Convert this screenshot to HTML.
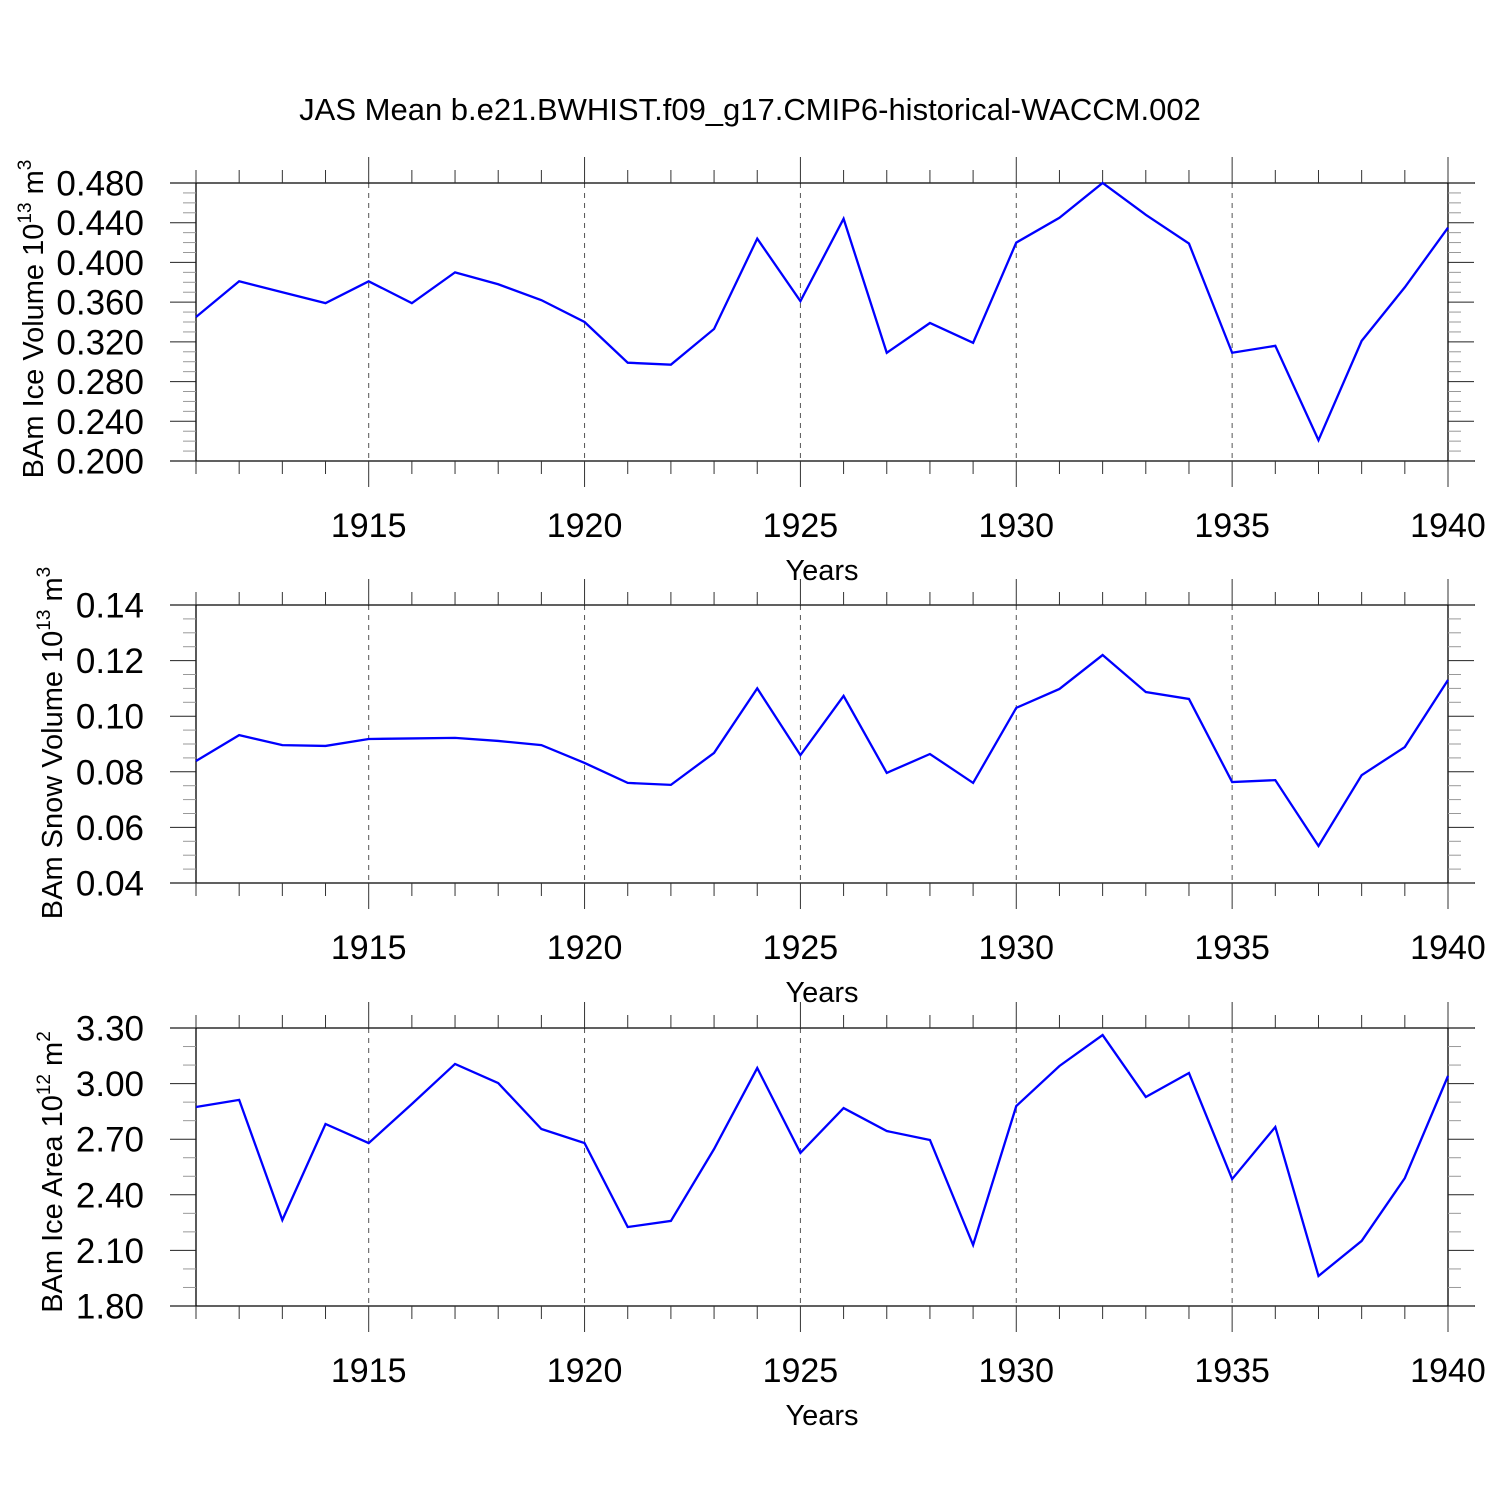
<!DOCTYPE html>
<html><head><meta charset="utf-8"><style>
html,body{margin:0;padding:0;background:#fff;}
svg{display:block;font-family:"Liberation Sans",sans-serif;}
</style></head><body>
<svg id="chart" width="1500" height="1500" viewBox="0 0 1500 1500" xmlns="http://www.w3.org/2000/svg">
<text x="750" y="120" font-size="31" text-anchor="middle">JAS Mean b.e21.BWHIST.f09_g17.CMIP6-historical-WACCM.002</text>
</svg>
<script>
const years = [1911,1912,1913,1914,1915,1916,1917,1918,1919,1920,1921,1922,1923,1924,1925,1926,1927,1928,1929,1930,1931,1932,1933,1934,1935,1936,1937,1938,1939,1940];
const iceVolume = [0.345,0.381,0.370,0.359,0.381,0.359,0.390,0.378,0.362,0.340,0.299,0.297,0.333,0.424,0.361,0.444,0.309,0.339,0.319,0.420,0.445,0.480,0.448,0.419,0.309,0.316,0.221,0.321,0.375,0.435];
const snowVolume = [0.0839,0.0932,0.0896,0.0893,0.0918,0.0920,0.0922,0.0911,0.0896,0.0832,0.0760,0.0753,0.0868,0.1100,0.0860,0.1073,0.0796,0.0864,0.0760,0.1030,0.1098,0.1220,0.1087,0.1062,0.0763,0.0770,0.0533,0.0788,0.0889,0.1130];
const iceArea = [2.874,2.912,2.264,2.782,2.679,2.890,3.106,3.003,2.755,2.679,2.226,2.259,2.647,3.084,2.626,2.868,2.744,2.696,2.129,2.879,3.095,3.262,2.928,3.057,2.485,2.766,1.962,2.151,2.490,3.041];
const xTickLabels = [1915,1920,1925,1930,1935,1940];
const iceVolTicks = ["0.200","0.240","0.280","0.320","0.360","0.400","0.440","0.480"];
const snowVolTicks = ["0.04","0.06","0.08","0.10","0.12","0.14"];
const iceAreaTicks = ["1.80","2.10","2.40","2.70","3.00","3.30"];

const NS="http://www.w3.org/2000/svg";
const svg=document.getElementById('chart');
const X0=196,X1=1448,Y0=1911,Y1=1940;
function xs(yr){return X0+(yr-Y0)/(Y1-Y0)*(X1-X0);}
function mk(tag,attrs,parent){const e=document.createElementNS(NS,tag);for(const k in attrs)e.setAttribute(k,attrs[k]);(parent||svg).appendChild(e);return e;}

const panels=[
 {key:'ice-volume',top:183,min:0.2,max:0.48,ticks:iceVolTicks,minor:0.01,data:iceVolume,title:'BAm Ice Volume 10',sup:'13',unit:' m',usup:'3',tx:43,ty:319},
 {key:'snow-volume',top:605,min:0.04,max:0.14,ticks:snowVolTicks,minor:0.005,data:snowVolume,title:'BAm Snow Volume 10',sup:'13',unit:' m',usup:'3',tx:62,ty:743},
 {key:'ice-area',top:1028,min:1.8,max:3.3,ticks:iceAreaTicks,minor:0.1,data:iceArea,title:'BAm Ice Area 10',sup:'12',unit:' m',usup:'2',tx:62,ty:1172}
];
panels.forEach(p=>{
  const H=278,bot=p.top+H;
  const g=mk('g',{});
  
  
  const ys=v=>bot-(v-p.min)/(p.max-p.min)*H;
  xTickLabels.forEach(yr=>{ if(yr<Y1){const l=mk('line',{x1:xs(yr),x2:xs(yr),y1:p.top,y2:bot,stroke:'#555','stroke-width':1,'stroke-dasharray':'5,5'},g);
    
    }});
  mk('line',{x1:170,x2:1475,y1:p.top,y2:p.top,stroke:'#000','stroke-width':1.3},g);
  mk('line',{x1:170,x2:1475,y1:bot,y2:bot,stroke:'#000','stroke-width':1.3},g);
  mk('line',{x1:X0,x2:X0,y1:p.top,y2:bot,stroke:'#000','stroke-width':1.3},g);
  mk('line',{x1:X1,x2:X1,y1:p.top,y2:bot,stroke:'#000','stroke-width':1.3},g);
  years.forEach(yr=>{const major=(yr%5===0);const x=xs(yr);const L=major?26:13;
    mk('line',{x1:x,x2:x,y1:p.top,y2:p.top-L,stroke:'#333','stroke-width':1},g);
    mk('line',{x1:x,x2:x,y1:bot,y2:bot+L,stroke:'#333','stroke-width':1},g);});
  const n=Math.round((p.max-p.min)/p.minor);
  const per=Math.round((p.max-p.min)/(p.ticks.length-1)/p.minor);
  for(let i=0;i<=n;i++){const y=bot-i/n*H;const major=i%per===0;const L=major?26:13;
    mk('line',{x1:X0,x2:X0-L,y1:y,y2:y,stroke:major?'#222':'#999','stroke-width':1},g);
    mk('line',{x1:X1,x2:X1+L,y1:y,y2:y,stroke:major?'#222':'#999','stroke-width':1},g);}
  p.ticks.forEach(t=>{const tt=mk('text',{x:144,y:ys(parseFloat(t))+12.5,'font-size':35,'text-anchor':'end'},g);tt.textContent=t;
    
    });
  xTickLabels.forEach(yr=>{const tt=mk('text',{x:xs(yr),y:bot+76,'font-size':34,'text-anchor':'middle'},g);tt.textContent=yr;
    
    });
  const xt=mk('text',{x:822,y:bot+119,'font-size':29,'text-anchor':'middle'},g);xt.textContent='Years';
  
  
  const yt=mk('text',{x:0,y:0,'font-size':29,'text-anchor':'middle',transform:`translate(${p.tx},${p.ty}) rotate(-90)`},g);
  
  
  const s1=mk('tspan',{},yt);s1.textContent=p.title;
  const s2=mk('tspan',{dy:-12,'font-size':19},yt);s2.textContent=p.sup;
  const s3=mk('tspan',{dy:12},yt);s3.textContent=p.unit;
  const s4=mk('tspan',{dy:-12,'font-size':19},yt);s4.textContent=p.usup;
  const pts=years.map((yr,i)=>xs(yr)+','+ys(p.data[i])).join(' ');
  const pl=mk('polyline',{points:pts,fill:'none',stroke:'#0000ff','stroke-width':2.3,'stroke-linejoin':'miter'},g);
  
  
});
</script>
</body></html>
